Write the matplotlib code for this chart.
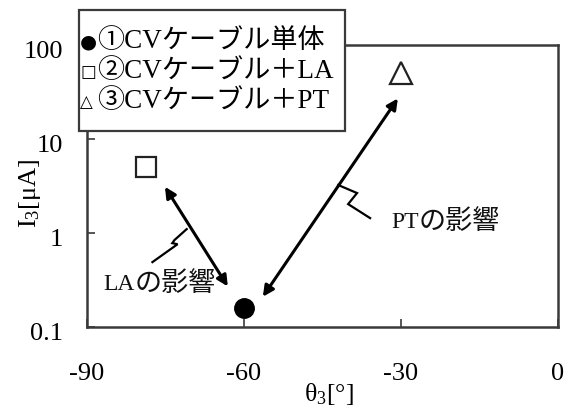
import matplotlib
matplotlib.use("Agg")
import matplotlib.pyplot as plt
import matplotlib.transforms as mtransforms
from matplotlib.patches import Rectangle

plt.rcParams['font.family'] = ['Liberation Serif', 'Noto Sans CJK JP', 'DejaVu Sans']
plt.rcParams['mathtext.fontset'] = 'custom'
plt.rcParams['mathtext.rm'] = 'Liberation Serif'
plt.rcParams['mathtext.it'] = 'Liberation Serif:italic'
plt.rcParams['axes.unicode_minus'] = False

# Measured points: phase angle theta3 [deg] and zero-sequence current I3 [uA]
case_symbols = ['●', '□', '△']
case_labels = ['①CVケーブル単体', '②CVケーブル＋LA', '③CVケーブル＋PT']
theta3 = [-60.0, -78.7, -30.0]
i3 = [0.16, 5.0, 50.0]

# Arrows showing the influence of LA and PT (both ends headed)
la_arrow = [(-75.1, 3.1), (-63.1, 0.27)]
pt_arrow = [(-56.4, 0.21), (-30.6, 27.0)]

# Leader lines from the arrows to their captions
la_leader_x = [-70.95, -73.3, -73.7, -72.7, -77.5]
la_leader_y = [1.10, 0.84, 0.78, 0.76, 0.49]
pt_leader_x = [-42.0, -38.4, -40.1, -35.9]
pt_leader_y = [3.24, 2.66, 2.03, 1.44]

la_caption = ('LA', 'の影響', -86.9, 0.28)
pt_caption = ('PT', 'の影響', -31.9, 1.28)

xticks = [-90, -60, -30, 0]
yticks = [0.1, 1, 10, 100]
ytick_labels = ['0.1', '1', '10', '100']

W, H = 574, 407
fig = plt.figure(figsize=(W / 100, H / 100), dpi=100)
ax_l, ax_r, ax_t, ax_b = 87, 558, 45, 327
ax = fig.add_axes([ax_l / W, 1 - ax_b / H, (ax_r - ax_l) / W, (ax_b - ax_t) / H])

ax.set_xlim(-90, 0)
ax.set_yscale('log')
ax.set_ylim(0.1, 100)
ax.minorticks_off()

frame_color = '#3a3a3a'
for s in ax.spines.values():
    s.set_color(frame_color)
    s.set_linewidth(1.8)

ax.set_xticks(xticks)
ax.set_xticklabels([str(t) for t in xticks])
ax.set_yticks(yticks)
ax.set_yticklabels(ytick_labels)
ax.tick_params(axis='both', direction='in', length=6, width=1.2, color=frame_color,
               labelsize=19)
ax.tick_params(axis='x', pad=26)
ax.tick_params(axis='y', pad=17)
# nudge y tick labels slightly downward
offset = mtransforms.ScaledTranslation(0, -4 / 100, fig.dpi_scale_trans)
for lbl in ax.get_yticklabels():
    lbl.set_transform(lbl.get_transform() + offset)

ax.set_xlabel(r'θ$_3$[°]', fontsize=18.5)
ax.set_ylabel(r'I$_3$[μA]', fontsize=19)
ax.xaxis.set_label_coords((329 - ax_l) / (ax_r - ax_l), -(381 - ax_b) / (ax_b - ax_t))
ax.yaxis.set_label_coords(-(ax_l - 43) / (ax_r - ax_l), (ax_b - 193) / (ax_b - ax_t))

# data markers
ax.plot(theta3[0], i3[0], marker='o', ms=14, color='black', ls='none', zorder=5,
        clip_on=False)
ax.plot(theta3[1], i3[1], marker='s', ms=14.5, mfc='white', mec='#222222', mew=1.6,
        ls='none', zorder=5)
ax.plot(theta3[2], i3[2], marker='^', ms=16, mfc='white', mec='#222222', mew=1.6,
        ls='none', zorder=5)

arrow_kw = dict(arrowstyle='<|-|>', color='black', lw=2.2, mutation_scale=16,
                shrinkA=0, shrinkB=0)
ax.annotate('', xy=la_arrow[1], xytext=la_arrow[0], arrowprops=arrow_kw)
ax.annotate('', xy=pt_arrow[1], xytext=pt_arrow[0], arrowprops=arrow_kw)

ax.plot(la_leader_x, la_leader_y, color='black', lw=1.6, solid_joinstyle='miter')
ax.plot(pt_leader_x, pt_leader_y, color='black', lw=1.6, solid_joinstyle='miter')

for latin, kana, x, y in (la_caption, pt_caption):
    t = ax.text(x, y, latin, fontsize=17, ha='left', va='center', color='#111111')
    ax.annotate(kana, xy=(1, 0.5), xycoords=t, xytext=(0, 0), textcoords='offset points',
                fontsize=19.5, ha='left', va='center', color='#111111')

# legend box drawn on top of the frame
box = Rectangle((79 / W, 1 - 131 / H), (345 - 79) / W, (131 - 10) / H,
                transform=fig.transFigure, facecolor='white', edgecolor=frame_color,
                lw=1.6, zorder=10)
fig.patches.append(box)
line_y = [41, 71, 101]
sym_size = [14, 12, 12]
for sym, ss, lab, yy in zip(case_symbols, sym_size, case_labels, line_y):
    fig.text(80 / W, 1 - (yy + 1) / H, sym, fontsize=ss, ha='left', va='center',
             family='DejaVu Sans', zorder=11)
    fig.text(97 / W, 1 - yy / H, lab, fontsize=19.5, ha='left', va='center',
             zorder=11)

fig.savefig('out.png', dpi=100)
